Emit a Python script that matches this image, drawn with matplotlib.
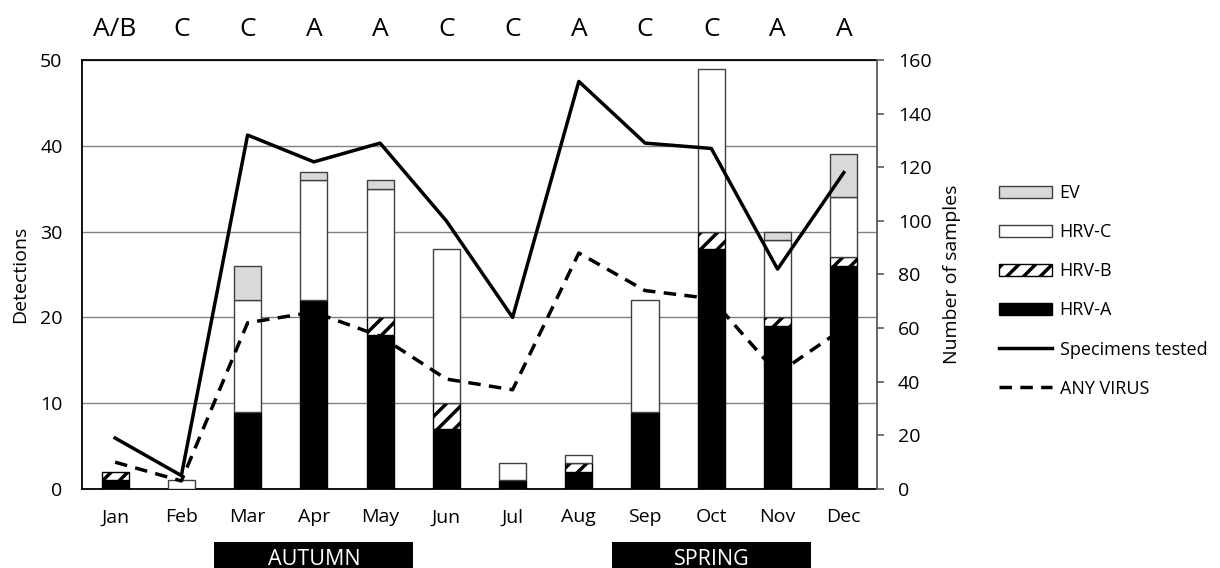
import matplotlib
matplotlib.use("Agg")
import matplotlib.pyplot as plt
import matplotlib.patches as mpatches
from matplotlib.lines import Line2D
import numpy as np

plt.rcParams["font.family"] = ["Open Sans", "DejaVu Sans"]
plt.rcParams["hatch.linewidth"] = 2.5

# --- data -----------------------------------------------------------------
months = ["Jan", "Feb", "Mar", "Apr", "May", "Jun",
          "Jul", "Aug", "Sep", "Oct", "Nov", "Dec"]
dominant = ["A/B", "C", "C", "A", "A", "C", "C", "A", "C", "C", "A", "A"]

hrv_a = [1, 0, 9, 22, 18, 7, 1, 2, 9, 28, 19, 26]
hrv_b = [1, 0, 0, 0, 2, 3, 0, 1, 0, 2, 1, 1]
hrv_c = [0, 1, 13, 14, 15, 18, 2, 1, 13, 19, 9, 7]
ev = [0, 0, 4, 1, 1, 0, 0, 0, 0, 0, 1, 5]

specimens = [19, 5, 132, 122, 129, 100, 64, 152, 129, 127, 82, 118]
any_virus = [10, 3, 62, 66, 57, 41, 37, 88, 74, 71, 43, 60]

season_names = ["AUTUMN", "SPRING"]
season_first = ["Mar", "Sep"]
season_last = ["May", "Nov"]

# --- figure ---------------------------------------------------------------
fig = plt.figure(figsize=(12.2, 5.68), dpi=100)
ax = fig.add_axes([0.0672, 0.1391, 0.6516, 0.7553])
ax2 = ax.twinx()

x = np.arange(len(months))
w = 0.41
edge = "#404040"

a = np.array(hrv_a)
b = np.array(hrv_b)
c = np.array(hrv_c)
e = np.array(ev)

ax.bar(x, a, w, color="black", edgecolor="black", linewidth=1, zorder=3)
ax.bar(x[b > 0], b[b > 0], w, bottom=a[b > 0], color="white", edgecolor="black",
       hatch="//", linewidth=1, zorder=3)
ax.bar(x[c > 0], c[c > 0], w, bottom=(a + b)[c > 0], color="white",
       edgecolor=edge, linewidth=1, zorder=3)
ax.bar(x[e > 0], e[e > 0], w, bottom=(a + b + c)[e > 0], color="#d9d9d9",
       edgecolor=edge, linewidth=1, zorder=3)

ax.set_xlim(-0.5, len(months) - 0.5)
ax.set_ylim(0, 50)
ax.set_yticks(range(0, 51, 10))
ax.yaxis.grid(True, color="#808080", linewidth=1)
ax.set_axisbelow(True)
ax.set_xticks(x)
ax.set_xticklabels(months)
ax.tick_params(axis="x", length=0, pad=14, labelsize=14)
ax.tick_params(axis="y", length=0, pad=14, labelsize=14)
ax.set_ylabel("Detections", fontsize=14, labelpad=8)

for sp in ["left", "top", "bottom"]:
    ax.spines[sp].set_color("black")
    ax.spines[sp].set_linewidth(1.3)
ax.spines["right"].set_visible(False)

ax2.plot(x, specimens, color="black", linewidth=2.5, zorder=5)
ax2.plot(x, any_virus, color="black", linewidth=2.5, dashes=(3.6, 2.4), zorder=5)
ax2.set_ylim(0, 160)
ax2.set_yticks(range(0, 161, 20))
ax2.tick_params(axis="y", length=5, width=1.2, color="#595959", pad=10, labelsize=14)
ax2.set_ylabel("Number of samples", fontsize=14, labelpad=8)
for sp in ["left", "top", "bottom"]:
    ax2.spines[sp].set_visible(False)
ax2.spines["right"].set_color("#595959")
ax2.spines["right"].set_linewidth(1.3)

# dominant type labels on top
for i, lab in enumerate(dominant):
    ax.text(i, 1.072, lab, transform=ax.get_xaxis_transform(), ha="center",
            va="center", fontsize=19)

# season boxes
for name, first, last in zip(season_names, season_first, season_last):
    x0 = months.index(first) - 0.5
    x1 = months.index(last) + 0.5
    rect = mpatches.Rectangle((x0, -0.20), x1 - x0, 0.077,
                              transform=ax.get_xaxis_transform(),
                              facecolor="black", edgecolor="none", clip_on=False)
    ax.add_patch(rect)
    ax.text((x0 + x1) / 2, -0.164, name, transform=ax.get_xaxis_transform(),
            ha="center", va="center", color="white", fontsize=15.5)

# legend
handles = [
    mpatches.Patch(facecolor="#d9d9d9", edgecolor=edge, label="EV"),
    mpatches.Patch(facecolor="white", edgecolor=edge, label="HRV-C"),
    mpatches.Patch(facecolor="white", edgecolor="black", hatch="//", label="HRV-B"),
    mpatches.Patch(facecolor="black", edgecolor="black", label="HRV-A"),
    Line2D([], [], color="black", linewidth=2.5, label="Specimens tested"),
    Line2D([], [], color="black", linewidth=2.5, dashes=(3.6, 2.4), label="ANY VIRUS"),
]
fig.legend(handles=handles, loc="upper left", bbox_to_anchor=(0.819, 0.676),
           frameon=False, fontsize=13, handlelength=2.9, handleheight=0.65,
           handletextpad=0.45, labelspacing=1.17, borderpad=0, borderaxespad=0)

plt.savefig("out.png", dpi=100)
plt.close()
